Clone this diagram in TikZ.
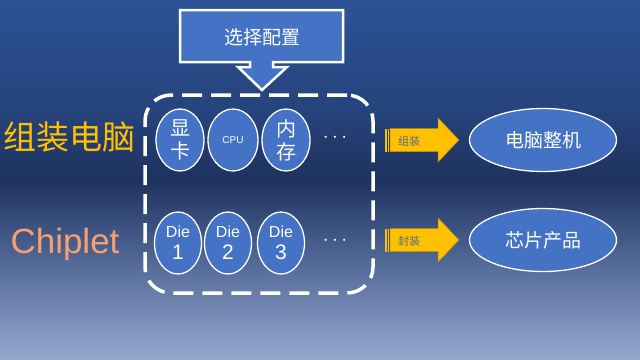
\documentclass[tikz,border=0pt]{standalone}
\usepackage{fontspec}
\setmainfont{Liberation Sans}
\newfontfamily\cjk{Noto Sans CJK SC}
\usetikzlibrary{shapes.geometric}
\definecolor{nodeblue}{RGB}{68,114,196}
\definecolor{gold}{RGB}{255,192,0}
\definecolor{golddark}{RGB}{191,144,0}
\definecolor{peach}{RGB}{246,160,110}
\definecolor{arrowtext}{RGB}{84,104,150}
\definecolor{bga}{RGB}{150,168,206}
\definecolor{bgb}{RGB}{75,98,145}
\definecolor{bgc}{RGB}{30,50,95}
\definecolor{bgd}{RGB}{38,68,125}
\definecolor{bge}{RGB}{44,82,150}
\pgfdeclareverticalshading{bgshade}{100bp}{
  color(0bp)=(bga);
  color(25bp)=(bga);
  color(40bp)=(bgb);
  color(50bp)=(bgc);
  color(60bp)=(bgd);
  color(75bp)=(bge);
  color(100bp)=(bge)}
\begin{document}
\begin{tikzpicture}[x=1pt,y=-1pt,
  ell/.style={ellipse, draw=white, line width=1.3pt, fill=nodeblue, inner sep=0pt, text=white, align=center},
  part/.style={ell, minimum width=48pt, minimum height=62pt},
  product/.style={ell, minimum width=147pt, minimum height=63pt, font=\cjk\fontsize{19}{22}\selectfont},
  dots/.style={text=white, font=\fontsize{20}{22}\selectfont},
  goldarrow/.style={fill=gold, draw=golddark, line width=0.5pt},
  arrowlabel/.style={text=arrowtext, font=\cjk\fontsize{11}{13}\selectfont},
  die/.style={part, minimum width=47pt, font=\fontsize{16}{22}\selectfont}
]
\shade[shading=bgshade] (0,0) rectangle (640,359);
\useasboundingbox (0,0) rectangle (640,359);

% callout
\draw[white, line width=2.5pt, fill=nodeblue, line join=miter]
  (180,10) -- (343,10) -- (343,62) -- (273,62) -- (273,67) -- (287,67) -- (262,90)
  -- (238,67) -- (250,67) -- (250,62) -- (180,62) -- cycle;
\node[text=white, font=\cjk\fontsize{19}{21}\selectfont] (select) at (262,37) {选择配置};

% dashed box
\node[draw=white, line width=3.5pt, dash pattern=on 20pt off 9pt, rounded corners=26pt,
      minimum width=228pt, minimum height=198pt, inner sep=0pt] (box) at (259,194) {};

% left labels
\node[text=gold, font=\cjk\fontsize{33}{36}\selectfont] (pc) at (70,137) {组装电脑};
\node[text=peach, font=\fontsize{35}{38}\selectfont] (chiplet) at (65,244) {Chiplet};

% top row
\node[part, font=\cjk\fontsize{20}{23}\selectfont] (gpu) at (180,140) {显\\卡};
\node[part, minimum width=50pt, font=\fontsize{10}{12}\selectfont] (cpu) at (233,140) {CPU};
\node[part, font=\cjk\fontsize{20}{23}\selectfont] (mem) at (286,140) {内\\存};
\node[dots] (dots1) at (335,138) {$\cdots$};

% bottom row
\node[die] (die1) at (178,243) {Die\\{\fontsize{21}{22}\selectfont 1}};
\node[die] (die2) at (228,243) {Die\\{\fontsize{21}{22}\selectfont 2}};
\node[die] (die3) at (281,243) {Die\\{\fontsize{21}{22}\selectfont 3}};
\node[dots] (dots2) at (335,241) {$\cdots$};

% arrows
\foreach \yc/\lab/\nm in {140/组装/a1, 240/封装/a2}{
  \fill[gold] (385,\yc-11.5) rectangle (386.5,\yc+11.5);
  \fill[gold] (387.5,\yc-11.5) rectangle (389,\yc+11.5);
  \draw[goldarrow] (390,\yc-11.5) -- (438,\yc-11.5) -- (438,\yc-22) -- (459,\yc)
     -- (438,\yc+22) -- (438,\yc+11.5) -- (390,\yc+11.5) -- cycle;
  \node[arrowlabel] (\nm) at (409,\yc+1) {\lab};
}

% products
\node[product] (pcout) at (543,140) {电脑整机};
\node[product] (chipout) at (543,240) {芯片产品};
\end{tikzpicture}
\end{document}
